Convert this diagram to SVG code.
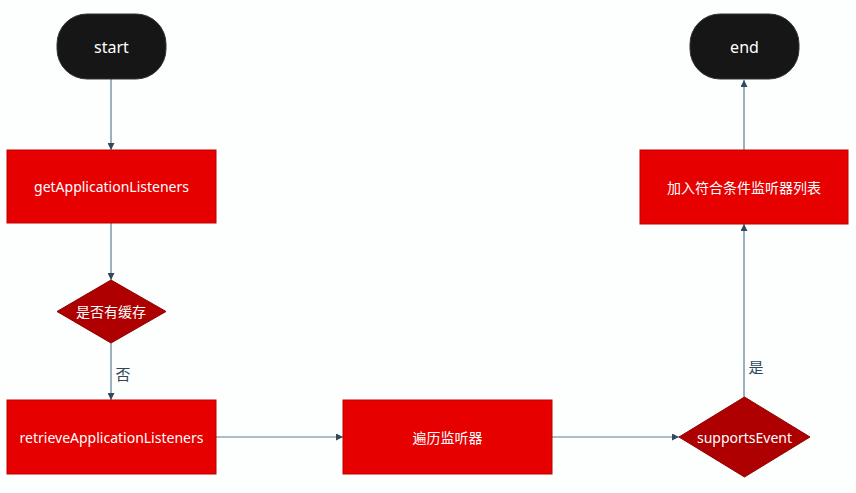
<svg xmlns="http://www.w3.org/2000/svg" width="856" height="493" viewBox="0 0 856 493">
<defs>
<style>
.term{fill:#161616;stroke:#333;stroke-width:1}
.box{fill:#e60000;stroke:#c00000;stroke-width:1}
.dia{fill:#ae0000;stroke:#900000;stroke-width:1}
.t{fill:#fff;font-family:"Noto Sans","Noto Sans CJK SC",sans-serif;font-size:14px;text-anchor:middle;dominant-baseline:central}
.tt{fill:#fff;font-family:"Noto Sans","Noto Sans CJK SC",sans-serif;font-size:16px;text-anchor:middle;dominant-baseline:central}
.lbl{fill:#2f4656;font-family:"Noto Sans CJK SC",sans-serif;font-size:15px;text-anchor:middle;dominant-baseline:central}
.c{stroke:#5d7c91;stroke-width:1.2;fill:none;marker-end:url(#ah)}
</style>
<marker id="ah" viewBox="0 0 10 10" refX="10" refY="5" markerWidth="7" markerHeight="7" markerUnits="userSpaceOnUse" orient="auto">
<path d="M0,0 L10,5 L0,10 z" fill="#2f4a5e"/>
</marker>
</defs>
<rect width="856" height="493" fill="#fdfefe"/>
<g id="connectors">
<path class="c" d="M111,79 V150"/>
<path class="c" d="M111,223 V280"/>
<path class="c" d="M111,343 V400"/>
<path class="c" d="M216,437 H343"/>
<path class="c" d="M552,437 H679"/>
<path class="c" d="M744,397 V224"/>
<path class="c" d="M744,150 V80"/>
<text class="lbl" x="123" y="373">否</text>
<text class="lbl" x="756" y="366">是</text>
</g>
<g id="start">
<rect class="term" x="57" y="14" width="109" height="65" rx="30"/>
<text class="tt" x="111.5" y="47">start</text>
</g>
<g id="getApplicationListeners">
<rect class="box" x="7" y="150" width="209" height="73"/>
<text class="t" x="111.5" y="186.5">getApplicationListeners</text>
</g>
<g id="hasCache">
<polygon class="dia" points="111,280 166,311.5 111,343 57,311.5"/>
<text class="t" x="111" y="311.5">是否有缓存</text>
</g>
<g id="retrieveApplicationListeners">
<rect class="box" x="7" y="400" width="209" height="74"/>
<text class="t" x="111.5" y="437">retrieveApplicationListeners</text>
</g>
<g id="iterate">
<rect class="box" x="343" y="400" width="209" height="74"/>
<text class="t" x="447.5" y="437">遍历监听器</text>
</g>
<g id="supportsEvent">
<polygon class="dia" points="744.5,397 810,437 744.5,477 679,437"/>
<text class="t" x="744.5" y="437">supportsEvent</text>
</g>
<g id="addList">
<rect class="box" x="640" y="150" width="208" height="74"/>
<text class="t" x="744" y="187">加入符合条件监听器列表</text>
</g>
<g id="end">
<rect class="term" x="690" y="14" width="109" height="65" rx="30"/>
<text class="tt" x="744.5" y="47">end</text>
</g>
</svg>
